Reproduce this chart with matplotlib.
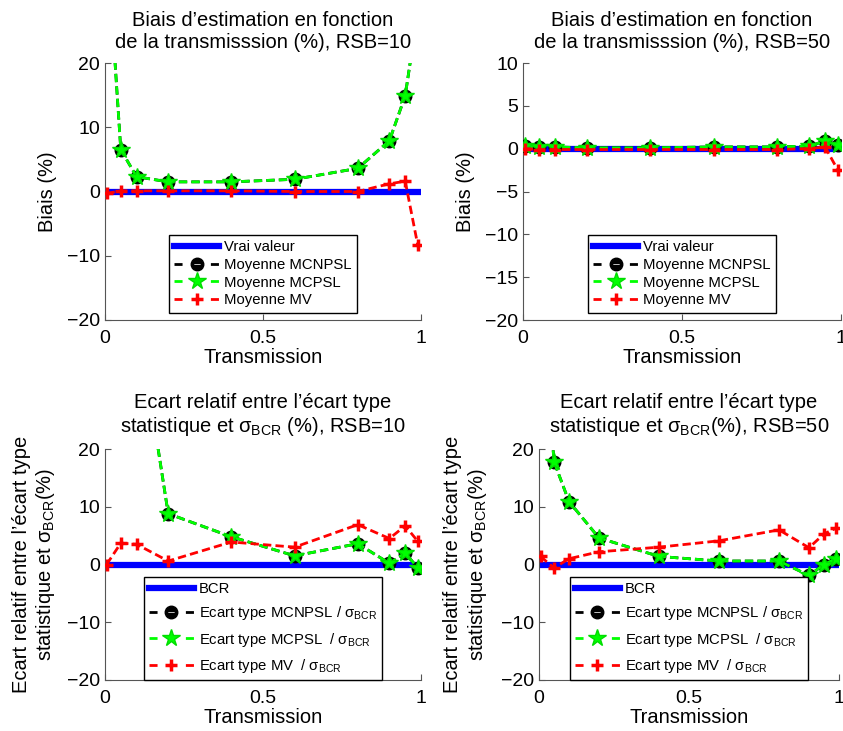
import numpy as np
import matplotlib
matplotlib.use('Agg')
import matplotlib.pyplot as plt
from matplotlib.path import Path

plt.rcParams['font.family'] = ['Liberation Sans', 'DejaVu Sans']
plt.rcParams['mathtext.fontset'] = 'custom'
plt.rcParams['mathtext.rm'] = 'Liberation Sans'
plt.rcParams['mathtext.it'] = 'Liberation Sans'
plt.rcParams['mathtext.bf'] = 'Liberation Sans'

# transmission values
T = [0.005, 0.05, 0.1, 0.2, 0.4, 0.6, 0.8, 0.9, 0.95, 0.99]

# biais (%) RSB=10
biais_mcnpsl_10 = [40, 6.5, 2.3, 1.5, 1.5, 1.9, 3.6, 7.9, 14.9, 28]
biais_mcpsl_10 = [40, 6.5, 2.3, 1.5, 1.5, 1.9, 3.6, 7.9, 14.9, 28]
biais_mv_10 = [-0.3, 0.1, 0.1, 0.1, 0.1, 0.0, 0.0, 1.2, 1.6, -8.4]

# biais (%) RSB=50
biais_mcnpsl_50 = [0.3, 0.2, 0.2, 0.1, 0.1, 0.2, 0.2, 0.3, 0.9, 0.4]
biais_mcpsl_50 = [0.3, 0.2, 0.2, 0.1, 0.1, 0.2, 0.2, 0.3, 0.9, 0.4]
biais_mv_50 = [0.0, -0.1, -0.1, -0.1, -0.1, -0.1, -0.1, 0.0, 0.2, -2.5]

# ecart relatif ecart type / sigma_BCR (%) RSB=10
std_mcnpsl_10 = [80, 60, 44, 8.8, 4.8, 1.5, 3.6, 0.2, 2.0, -0.6]
std_mcpsl_10 = [80, 60, 44, 8.8, 4.8, 1.5, 3.6, 0.2, 2.0, -0.6]
std_mv_10 = [0.0, 3.7, 3.5, 0.6, 3.9, 3.0, 6.9, 4.5, 6.7, 4.0]

# ecart relatif ecart type / sigma_BCR (%) RSB=50
std_mcnpsl_50 = [50, 17.8, 10.9, 4.6, 1.4, 0.6, 0.6, -1.9, 0.0, 1.0]
std_mcpsl_50 = [50, 17.8, 10.9, 4.6, 1.4, 0.6, 0.6, -1.9, 0.0, 1.0]
std_mv_50 = [1.4, -0.6, 1.0, 2.2, 3.0, 4.1, 6.0, 2.9, 5.3, 6.3]

# marqueur cercle noir barre blanche
circ = Path.unit_circle()
bar = Path([(-0.62, -0.17), (-0.62, 0.17), (0.62, 0.17), (0.62, -0.17), (-0.62, -0.17)],
           [Path.MOVETO, Path.LINETO, Path.LINETO, Path.LINETO, Path.CLOSEPOLY])
ominus = Path.make_compound_path(circ, bar)

W, H = 843, 731
fig = plt.figure(figsize=(W / 100, H / 100), dpi=100)

FS = 14.5


def rect(x0, x1, ytop, ybot):
    return [x0 / W, 1 - ybot / H, (x1 - x0) / W, (ybot - ytop) / H]


def style(ax, yticks, ylim):
    ax.set_xlim(0, 1)
    ax.set_ylim(*ylim)
    ax.set_xticks([0, 0.5, 1])
    ax.set_xticklabels(['0', '0.5', '1'])
    ax.set_yticks(yticks)
    ax.spines['top'].set_visible(False)
    ax.spines['right'].set_visible(False)
    for s in ['left', 'bottom']:
        ax.spines[s].set_color('#555555')
        ax.spines[s].set_linewidth(0.8)
    ax.tick_params(direction='in', length=4, width=0.8, color='#555555', labelsize=14)
    ax.tick_params(axis='x', pad=7)
    ax.tick_params(axis='y', pad=3.5)
    ax.set_xlabel('Transmission', fontsize=FS, labelpad=1)


def courbes(ax, ref_label, labels, mcnpsl, mcpsl, mv):
    ax.plot([0, 1], [0, 0], color='#0000ff', lw=4.5, label=ref_label, zorder=2)
    ax.plot(T, mcnpsl, color='k', ls='--', dashes=(3, 1.5), lw=2, marker=ominus, ms=9,
            mfc='k', mec='k', label=labels[0], zorder=3)
    ax.plot(T, mcpsl, color='#00ff00', ls='--', dashes=(3, 1.5), lw=2, marker='*', ms=13,
            mfc='#00ff00', mec='#00dd00', label=labels[1], zorder=4)
    ax.plot(T, mv, color='#ff0000', ls='--', dashes=(3, 1.5), lw=2, marker='+', ms=9,
            mew=2.5, label=labels[2], zorder=5)


lab_top = ['Moyenne MCNPSL', 'Moyenne MCPSL', 'Moyenne MV']
lab_bot = [r'Ecart type MCNPSL / $\sigma_{BCR}$', r'Ecart type MCPSL  / $\sigma_{BCR}$',
           r'Ecart type MV  / $\sigma_{BCR}$']

ax1 = fig.add_axes(rect(105, 421, 63, 320))
courbes(ax1, 'Vrai valeur', lab_top, biais_mcnpsl_10, biais_mcpsl_10, biais_mv_10)
style(ax1, [-20, -10, 0, 10, 20], (-20, 20))
ax1.set_title('Biais d\u2019estimation en fonction\nde la transmisssion (%), RSB=10', fontsize=FS, pad=11)
ax1.set_ylabel('Biais (%)', fontsize=FS, labelpad=7)

ax2 = fig.add_axes(rect(523, 841, 63, 320))
courbes(ax2, 'Vrai valeur', lab_top, biais_mcnpsl_50, biais_mcpsl_50, biais_mv_50)
style(ax2, [-20, -15, -10, -5, 0, 5, 10], (-20, 10))
ax2.set_title('Biais d\u2019estimation en fonction\nde la transmisssion (%), RSB=50', fontsize=FS, pad=11)
ax2.set_ylabel('Biais (%)', fontsize=FS, labelpad=7)

ax3 = fig.add_axes(rect(105, 421, 449, 680))
courbes(ax3, 'BCR', lab_bot, std_mcnpsl_10, std_mcpsl_10, std_mv_10)
style(ax3, [-20, -10, 0, 10, 20], (-20, 20))
ax3.set_title('Ecart relatif entre l\u2019\u00e9cart type\nstatistique et $\\sigma_{BCR}$ (%), RSB=10',
              fontsize=FS, pad=12)
ax3.set_ylabel('Ecart relatif entre l\u2019\u00e9cart type\nstatistique et $\\sigma_{BCR}$(%)',
               fontsize=FS, labelpad=7)

ax4 = fig.add_axes(rect(539, 839, 449, 680))
courbes(ax4, 'BCR', lab_bot, std_mcnpsl_50, std_mcpsl_50, std_mv_50)
style(ax4, [-20, -10, 0, 10, 20], (-20, 20))
ax4.set_title('Ecart relatif entre l\u2019\u00e9cart type\nstatistique et $\\sigma_{BCR}$(%), RSB=50',
              fontsize=FS, pad=12)
ax4.set_ylabel('Ecart relatif entre l\u2019\u00e9cart type\nstatistique et $\\sigma_{BCR}$(%)',
               fontsize=FS, labelpad=9)

for ax, pad, sp in [(ax1, 0.5, 0.25), (ax2, 0.5, 0.25), (ax3, 0.0, 0.55), (ax4, 0.0, 0.55)]:
    leg = ax.legend(loc='lower center', fontsize=10.7, handlelength=3.0, borderaxespad=pad,
                    fancybox=False, framealpha=1, edgecolor='k', borderpad=0.35,
                    labelspacing=sp, handletextpad=0.35)
    leg.get_frame().set_linewidth(1.0)
    # poignees de legende : tiret - marqueur - tiret
    for hl in leg.get_lines()[1:]:
        hl.set_linestyle((0, (2.9, 10.2)))

fig.savefig('out.png', dpi=100)
